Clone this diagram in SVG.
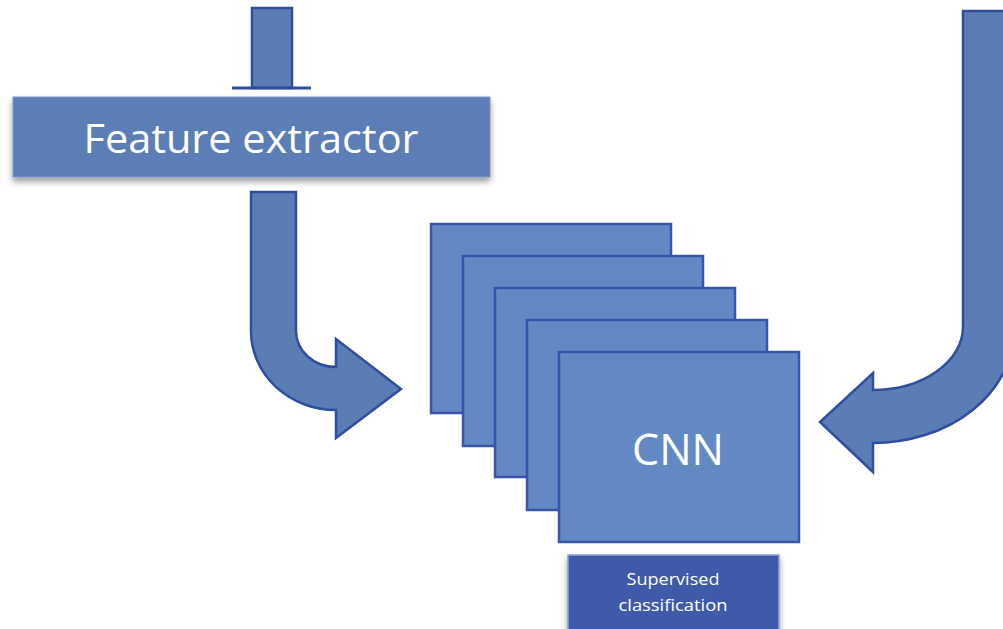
<svg xmlns="http://www.w3.org/2000/svg" width="1003" height="629" viewBox="0 0 1003 629">
<defs>
<filter id="sh" x="-10%" y="-20%" width="120%" height="160%">
<feDropShadow dx="0" dy="4" stdDeviation="3" flood-color="#000" flood-opacity="0.4"/>
</filter>
<style>
.arrow{fill:#5a7db5;stroke:#2f4ea0;stroke-width:2.5;stroke-linejoin:miter}
.layer{fill:#6389c4;stroke:#3a55a6;stroke-width:2.5}
.lbl{fill:#ffffff;font-family:"Open Sans","Noto Sans",sans-serif;text-anchor:middle}
</style>
</defs>
<rect width="1003" height="629" fill="#ffffff"/>
<g id="connectors">
<g id="top-input">
<rect class="arrow" x="252" y="8" width="40" height="80"/>
<line x1="232" y1="88" x2="311" y2="88" stroke="#2f4ea0" stroke-width="3"/>
</g>
<path id="left-arrow" class="arrow" d="M251,192 L296,192 L296,331 A40,36 0 0 0 336,367 L336,339 L401,389 L336,438 L336,410 A85,79 0 0 1 251,331 Z"/>
<path id="right-arrow" class="arrow" d="M963,11 L1014,11 L1014,330 A141,113 0 0 1 873,443 L873,472 L820,422 L873,373 L873,390 A90,63 0 0 0 963,327 Z"/>
</g>
<g id="feature-extractor">
<rect x="13" y="97" width="477" height="80" fill="#5b7db5" stroke="#7d9bc9" stroke-width="1" filter="url(#sh)"/>
<text class="lbl" x="251" y="153" font-size="40" textLength="335" lengthAdjust="spacingAndGlyphs">Feature extractor</text>
</g>
<g id="cnn-stack">
<rect class="layer" x="431" y="224" width="240" height="189"/>
<rect class="layer" x="463" y="256" width="240" height="190"/>
<rect class="layer" x="495" y="288" width="240" height="189"/>
<rect class="layer" x="527" y="320" width="240" height="190"/>
<rect class="layer" x="559" y="352" width="240" height="190"/>
<text class="lbl" x="678" y="465" font-size="44" textLength="92" lengthAdjust="spacingAndGlyphs">CNN</text>
</g>
<g id="supervised-classification">
<rect x="568" y="555" width="211" height="80" fill="#3f5aaa" stroke="#8fa3d3" stroke-width="1.5" filter="url(#sh)"/>
<text class="lbl" x="673" y="585" font-size="17" textLength="93" lengthAdjust="spacingAndGlyphs">Supervised</text>
<text class="lbl" x="673" y="611" font-size="17" textLength="109" lengthAdjust="spacingAndGlyphs">classification</text>
</g>
</svg>
